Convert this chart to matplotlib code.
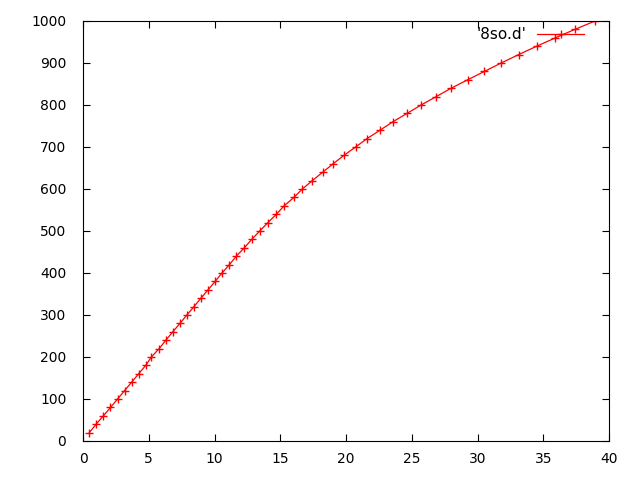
import matplotlib
matplotlib.use("Agg")
import matplotlib.pyplot as plt

x_vals = [0.48, 1.0, 1.55, 2.09, 2.63, 3.16, 3.70, 4.23, 4.77, 5.20,
          5.79, 6.30, 6.83, 7.37, 7.90, 8.44, 8.97, 9.51, 10.05, 10.57,
          11.14, 11.65, 12.27, 12.83, 13.44, 14.06, 14.71, 15.30, 16.04, 16.68,
          17.44, 18.23, 19.02, 19.84, 20.73, 21.60, 22.59, 23.56, 24.64, 25.71,
          26.86, 28.0, 29.25, 30.53, 31.80, 33.13, 34.50, 35.93, 37.4, 38.94]
y_vals = list(range(20, 1001, 20))
series_label = "'8so.d'"
x_ticks = [0, 5, 10, 15, 20, 25, 30, 35, 40]
y_ticks = [0, 100, 200, 300, 400, 500, 600, 700, 800, 900, 1000]

fig = plt.figure(figsize=(6.4, 4.8), dpi=100)
ax = fig.add_axes([83/640, 1-441/480, (609-83)/640, (441-21)/480])
ax.plot(x_vals, y_vals, color='red', lw=0.9, marker='+', markersize=6,
        markeredgewidth=1.0, label=series_label)
ax.set_xlim(0, 40)
ax.set_ylim(0, 1000)
ax.set_xticks(x_ticks)
ax.set_yticks(y_ticks)
ax.tick_params(direction='in', length=5, width=0.8, top=True, right=True,
               labelsize=10)
ax.tick_params(axis='y', pad=12)
ax.tick_params(axis='x', pad=8)
for s in ax.spines.values():
    s.set_linewidth(0.8)
leg = ax.legend(loc='upper right', frameon=False, markerfirst=False,
                numpoints=1, handlelength=3.07, fontsize=11,
                bbox_to_anchor=(0.973, 1.011),
                borderaxespad=0.3, handletextpad=0.7)
fig.savefig("out.png", dpi=100)
